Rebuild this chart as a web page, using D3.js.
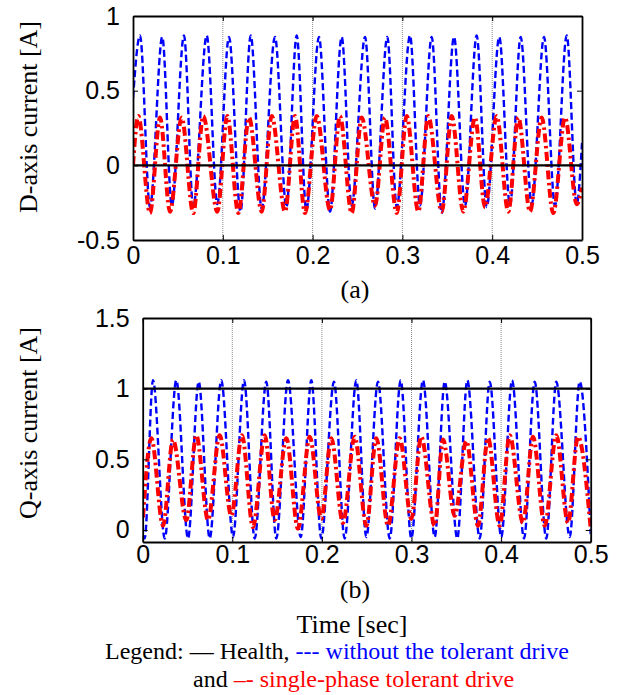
<!DOCTYPE html>
<html>
<head>
<meta charset="utf-8">
<script src="https://cdn.jsdelivr.net/npm/d3@7"></script>
<style>
  html, body { margin: 0; padding: 0; background: #fff; }
  svg { display: block; }
</style>
</head>
<body>
<svg id="chart" width="624" height="695"></svg>
<script>
// ---------- Data ----------
const xTicks = [0, 0.1, 0.2, 0.3, 0.4, 0.5];
const xTickLabels = ["0", "0.1", "0.2", "0.3", "0.4", "0.5"];
const dTicks = [-0.5, 0, 0.5, 1];
const dTickLabels = ["-0.5", "0", "0.5", "1"];
const qTicks = [0, 0.5, 1, 1.5];
const qTickLabels = ["0", "0.5", "1", "1.5"];

const dHealth = [0, 0];           // healthy D current (at t=0 and t=0.5)
const qHealth = [1, 1];           // healthy Q current
const healthT = [0, 0.5];

// Blue: without the tolerant drive (D-axis)
const dBluePeakT = [0.0078,0.0326,0.0568,0.0821,0.1069,0.1311,0.1581,0.1823,0.2071,0.2324,0.2584,0.2832,0.3085,0.3326,0.3575,0.3827,0.4079,0.4317,0.4577,0.4830];
const dBluePeakV = [0.87,0.86,0.87,0.87,0.86,0.87,0.86,0.87,0.86,0.86,0.86,0.86,0.87,0.86,0.86,0.87,0.86,0.86,0.86,0.87];
const dBlueTroughT = [0.0189,0.0432,0.0671,0.0939,0.1197,0.1433,0.1708,0.1930,0.2194,0.2435,0.2695,0.2937,0.3196,0.3438,0.3697,0.3939,0.4198,0.4440,0.4699,0.4941];
const dBlueTroughV = [-0.28,-0.27,-0.28,-0.26,-0.31,-0.29,-0.28,-0.30,-0.31,-0.27,-0.29,-0.28,-0.27,-0.32,-0.27,-0.28,-0.27,-0.26,-0.27,-0.26];
const dBlueEndsT = [0, 0.5];
const dBlueEndsV = [0.45, 0.15];

// Red: single-phase tolerant drive (D-axis)
const dRedPeakT = [0.0059,0.0301,0.0542,0.0783,0.1050,0.1292,0.1545,0.1804,0.2046,0.2305,0.2547,0.2806,0.3048,0.3288,0.3549,0.3808,0.4050,0.4291,0.4551,0.4811];
const dRedPeakV = [0.33,0.32,0.32,0.33,0.33,0.32,0.33,0.33,0.33,0.33,0.32,0.32,0.33,0.33,0.33,0.32,0.33,0.32,0.32,0.32];
const dRedTroughT = [0.0189,0.0412,0.0671,0.0939,0.1173,0.1433,0.1693,0.1915,0.2194,0.2435,0.2695,0.2937,0.3177,0.3438,0.3678,0.3920,0.4179,0.4421,0.4680,0.4941];
const dRedTroughV = [-0.32,-0.31,-0.32,-0.31,-0.32,-0.31,-0.31,-0.32,-0.30,-0.32,-0.27,-0.32,-0.31,-0.31,-0.31,-0.28,-0.31,-0.31,-0.32,-0.26];
const dRedEndsT = [0, 0.5];
const dRedEndsV = [0.0, -0.15];

// Plot (b): Q-axis current [A]
const qBluePeakT = [0.0115,0.0375,0.0625,0.0877,0.1131,0.1379,0.1622,0.1882,0.2135,0.2384,0.2626,0.2879,0.3128,0.3371,0.3623,0.3873,0.4122,0.4375,0.4616,0.4877];
const qBluePeakV = [1.06,1.06,1.05,1.06,1.06,1.05,1.06,1.06,1.05,1.06,1.05,1.06,1.06,1.05,1.06,1.05,1.06,1.05,1.05,1.05];
const qBlueTroughT = [0.0022,0.0246,0.0506,0.0748,0.1008,0.1250,0.1491,0.1763,0.1993,0.2254,0.2496,0.2757,0.2998,0.3259,0.3511,0.3761,0.4002,0.4256,0.4504,0.4766];
const qBlueTroughV = [-0.06,-0.06,-0.06,-0.06,-0.05,-0.06,-0.06,-0.05,-0.06,-0.06,-0.05,-0.06,-0.06,-0.05,-0.06,-0.06,-0.05,-0.06,-0.06,-0.05];
const qBlueEndsT = [0, 0.5];
const qBlueEndsV = [-0.04, -0.03];

const qRedPeakT = [0.0096,0.0338,0.0598,0.0859,0.1108,0.1362,0.1603,0.1864,0.2105,0.2366,0.2607,0.2868,0.3109,0.3352,0.3612,0.3854,0.4096,0.4356,0.4616,0.4858];
const qRedPeakV = [0.65,0.64,0.67,0.67,0.67,0.67,0.65,0.66,0.65,0.66,0.65,0.65,0.66,0.64,0.63,0.65,0.67,0.66,0.67,0.66];
const qRedTroughT = [0.0003,0.0227,0.0487,0.0729,0.0989,0.1231,0.1473,0.1733,0.1993,0.2235,0.2496,0.2738,0.2998,0.3259,0.3482,0.3742,0.3984,0.4244,0.4487,0.4747];
const qRedTroughV = [0.09,0.03,0.07,0.07,0.10,0.02,0.07,0.01,0.08,0.05,0.03,0.03,0.08,0.03,0.10,0.03,0.03,0.05,0.03,0.05];
const qRedEndsT = [0.5];
const qRedEndsV = [0.01];

// ---------- Helpers ----------
function series(...pairs) {
  const pts = [];
  for (let i = 0; i < pairs.length; i += 2) {
    const T = pairs[i], V = pairs[i + 1];
    T.forEach((t, k) => pts.push({ t, v: V[k] }));
  }
  pts.sort((a, b) => a.t - b.t);
  return pts;
}

const svg = d3.select("#chart");
const SANS = "'Liberation Sans', Arial, sans-serif";
const SERIF = "'Liberation Serif', 'Times New Roman', serif";

function panel(cfg) {
  const x = d3.scaleLinear().domain([0, 0.5]).range([cfg.left, cfg.right]);
  const y = d3.scaleLinear().domain(cfg.yDomain).range([cfg.bottom, cfg.top]);
  const g = svg.append("g");
  const clipId = "clip" + cfg.id;
  svg.append("defs").append("clipPath").attr("id", clipId)
    .append("rect").attr("x", cfg.left).attr("y", cfg.top)
    .attr("width", cfg.right - cfg.left).attr("height", cfg.bottom - cfg.top);

  // vertical grid
  g.append("g").selectAll("line").data(xTicks.slice(1, -1)).join("line")
    .attr("x1", d => x(d)).attr("x2", d => x(d))
    .attr("y1", cfg.top).attr("y2", cfg.bottom)
    .attr("stroke", "#8c8c8c").attr("stroke-width", 1)
    .attr("stroke-dasharray", "1,1");

  const line = d3.line().x(d => x(d.t)).y(d => y(d.v)).curve(d3.curveMonotoneX);
  const plot = g.append("g").attr("clip-path", `url(#${clipId})`);

  plot.append("path").datum(cfg.blue).attr("d", line)
    .attr("fill", "none").attr("stroke", "#0000ff").attr("stroke-width", 2.4)
    .attr("stroke-dasharray", "7,3.5");
  plot.append("path").datum(cfg.red).attr("d", line)
    .attr("fill", "none").attr("stroke", "#ff0000").attr("stroke-width", 4)
    .attr("stroke-dasharray", "9,3.5,2.5,3.5");
  plot.append("path").datum(cfg.health).attr("d", d3.line().x(d => x(d.t)).y(d => y(d.v)))
    .attr("fill", "none").attr("stroke", "#000").attr("stroke-width", 2.2);

  const axB = d3.axisBottom(x).tickValues(xTicks).tickFormat((d, i) => xTickLabels[i]).tickSizeInner(-5).tickSizeOuter(0).tickPadding(cfg.xPad);
  const axT = d3.axisTop(x).tickValues(xTicks).tickFormat("").tickSizeInner(-5).tickSizeOuter(0);
  const axL = d3.axisLeft(y).tickValues(cfg.yTicks).tickFormat((d, i) => cfg.yLabels[i]).tickSizeInner(-5).tickSizeOuter(0).tickPadding(13);
  const axR = d3.axisRight(y).tickValues(cfg.yTicks).tickFormat("").tickSizeInner(-5).tickSizeOuter(0);

  const styleAxis = sel => {
    sel.select(".domain").attr("stroke", "#000").attr("stroke-width", 1.8);
    sel.selectAll(".tick line").attr("stroke", "#000").attr("stroke-width", 1);
    sel.selectAll("text").attr("font-family", SANS).attr("font-size", 25).attr("fill", "#000");
  };
  g.append("g").attr("transform", `translate(0,${cfg.bottom})`).call(axB).call(styleAxis);
  g.append("g").attr("transform", `translate(0,${cfg.top})`).call(axT).call(styleAxis);
  g.append("g").attr("transform", `translate(${cfg.left},0)`).call(axL).call(styleAxis);
  g.append("g").attr("transform", `translate(${cfg.right},0)`).call(axR).call(styleAxis);

  svg.append("text")
    .attr("transform", `translate(37,${cfg.labelY}) rotate(-90)`)
    .attr("text-anchor", "middle").attr("font-family", SERIF).attr("font-size", 26)
    .text(cfg.yTitle);
  svg.append("text").attr("x", cfg.capX).attr("y", cfg.capY)
    .attr("text-anchor", "middle").attr("font-family", SERIF).attr("font-size", 26)
    .text(cfg.caption);
}

panel({
  id: "a", left: 133, right: 582, top: 16, bottom: 240,
  yDomain: [-0.5, 1], yTicks: dTicks, yLabels: dTickLabels, xPad: 6,
  blue: series(dBluePeakT, dBluePeakV, dBlueTroughT, dBlueTroughV, dBlueEndsT, dBlueEndsV),
  red: series(dRedPeakT, dRedPeakV, dRedTroughT, dRedTroughV, dRedEndsT, dRedEndsV),
  health: series(healthT, dHealth),
  yTitle: "D-axis current [A]", labelY: 117,
  caption: "(a)", capX: 355, capY: 298
});

panel({
  id: "b", left: 142.7, right: 590.7, top: 318, bottom: 542,
  yDomain: [-0.085, 1.5], yTicks: qTicks, yLabels: qTickLabels, xPad: 3,
  blue: series(qBluePeakT, qBluePeakV, qBlueTroughT, qBlueTroughV, qBlueEndsT, qBlueEndsV),
  red: series(qRedPeakT, qRedPeakV, qRedTroughT, qRedTroughV, qRedEndsT, qRedEndsV),
  health: series(healthT, qHealth),
  yTitle: "Q-axis current [A]", labelY: 423,
  caption: "(b)", capX: 355, capY: 598
});

svg.append("text").attr("x", 352).attr("y", 633).attr("text-anchor", "middle")
  .attr("font-family", SERIF).attr("font-size", 26).text("Time [sec]");

const leg1 = svg.append("text").attr("x", 105).attr("y", 659)
  .attr("font-family", SERIF).attr("font-size", 24);
leg1.append("tspan").attr("fill", "#000").text("Legend: \u2014 Health, ");
leg1.append("tspan").attr("fill", "#0000ff").text("--- without the tolerant drive");

const leg2 = svg.append("text").attr("x", 193).attr("y", 687)
  .attr("font-family", SERIF).attr("font-size", 24);
leg2.append("tspan").attr("fill", "#000").text("and ");
leg2.append("tspan").attr("fill", "#ff0000").text("\u2013- single-phase tolerant drive");
</script>
</body>
</html>
